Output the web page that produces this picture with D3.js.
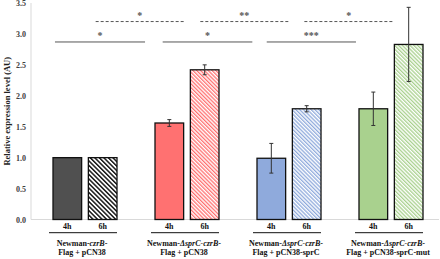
<!DOCTYPE html>
<html><head><meta charset="utf-8">
<script src="https://cdn.jsdelivr.net/npm/d3@7"></script>
<style>body{margin:0;background:#fff}svg{display:block}text{font-family:"Liberation Serif","Times New Roman",serif;font-weight:bold}</style>
</head><body>
<svg id="c" width="440" height="259"></svg>
<script>
const groups = ["g1","g2","g3","g4"];
const groupLine1 = [["Newman-","czrB","-"],["Newman-","ΔsprC-czrB","-"],["Newman-","ΔsprC-czrB","-"],["Newman-","ΔsprC-czrB","-"]];
const groupLine2 = ["Flag + pCN38","Flag + pCN38","Flag + pCN38-sprC","Flag + pCN38-sprC-mut"];
const times = ["4h","6h"];
const values4h = [1.00, 1.56, 0.99, 1.79];
const values6h = [1.00, 2.42, 1.79, 2.83];
const err4h = [0, 0.055, 0.24, 0.27];
const err6h = [0, 0.08, 0.05, 0.60];
const colors = ["#505050","#ff7171","#8faadc","#a9d18e"];
const hatchColors = ["#1a1a1a","#ff7171","#8faadc","#a9d18e"];
const yTicks = [0,0.5,1.0,1.5,2.0,2.5,3.0,3.5];
// significance brackets: [from, to] in category units, label
const sigSolid = [[0.235,1.118,"*"],[1.291,2.170,"*"],[2.311,3.186,"***"]];
const sigDashed = [[0.634,1.50,"*"],[1.66,2.523,"**"],[2.68,3.552,"*"]];
const solidLevel = 2.87, dashedLevel = 3.20;

const svg = d3.select("#c");
const L = 31, R = 439, T = 3, B = 219.5;
const y = d3.scaleLinear().domain([0,3.5]).range([B,T]);
const x0 = d3.scaleBand().domain(groups).range([L,R]);
const xc = d3.scaleLinear().domain([0,4]).range([L,R]);
const x1 = d3.scaleBand().domain(times).range([22,86]).paddingInner(0.19).paddingOuter(0);

const defs = svg.append("defs");
hatchColors.forEach((c,i)=>{
  const s = i===0 ? 3.2 : 2.7;
  const p = defs.append("pattern").attr("id","h"+i).attr("patternUnits","userSpaceOnUse")
    .attr("width",s).attr("height",s).attr("patternTransform","rotate(-45)");
  p.append("rect").attr("width",s).attr("height",s).attr("fill","#fff");
  p.append("rect").attr("x",0).attr("width",i===0?1.5:1.3).attr("height",s).attr("fill",c);
});

// axes lines
svg.append("line").attr("x1",L).attr("x2",L).attr("y1",T).attr("y2",B).attr("stroke","#d9d9d9");
svg.append("line").attr("x1",L).attr("x2",R).attr("y1",B).attr("y2",B).attr("stroke","#d9d9d9");

const yAxis = svg.append("g").attr("transform",`translate(${L},0)`)
  .call(d3.axisLeft(y).tickValues(yTicks).tickFormat(d3.format(".1f")).tickSize(0).tickPadding(5));
yAxis.select(".domain").remove();
yAxis.selectAll("text").attr("font-size",8).attr("fill","#404040");

svg.append("text").attr("transform",`translate(10,${(T+B)/2}) rotate(-90)`)
  .attr("text-anchor","middle").attr("font-size",8.5).attr("fill","#222")
  .text("Relative expression level (AU)");

groups.forEach((g,i)=>{
  const gx = x0(g);
  const data = [{t:"4h",v:values4h[i],e:err4h[i],fill:colors[i]},{t:"6h",v:values6h[i],e:err6h[i],fill:`url(#h${i})`}];
  const gg = svg.append("g").attr("transform",`translate(${gx},0)`);
  gg.selectAll("rect.bar").data(data).join("rect").attr("class","bar")
    .attr("x",d=>x1(d.t)).attr("width",x1.bandwidth())
    .attr("y",d=>y(d.v)).attr("height",d=>y(0)-y(d.v))
    .attr("fill",d=>d.fill).attr("stroke","#111").attr("stroke-width",1.3);
  data.filter(d=>d.e>0).forEach(d=>{
    const cx = x1(d.t)+x1.bandwidth()/2;
    gg.append("line").attr("x1",cx).attr("x2",cx).attr("y1",y(d.v+d.e)).attr("y2",y(d.v-d.e)).attr("stroke","#333").attr("stroke-width",1);
    [d.v+d.e,d.v-d.e].forEach(v=>gg.append("line").attr("x1",cx-2).attr("x2",cx+2).attr("y1",y(v)).attr("y2",y(v)).attr("stroke","#333").attr("stroke-width",1));
  });
  gg.selectAll("text.t").data(times).join("text").attr("class","t")
    .attr("x",d=>x1(d)+x1.bandwidth()/2).attr("y",229).attr("text-anchor","middle")
    .attr("font-size",8).attr("fill","#111").text(d=>d);
  gg.append("line").attr("x1",18).attr("x2",86).attr("y1",232.7).attr("y2",232.7).attr("stroke","#111").attr("stroke-width",1);
  const cx = x0.bandwidth()/2;
  const t1 = gg.append("text").attr("x",cx).attr("y",246).attr("text-anchor","middle").attr("font-size",8).attr("fill","#111");
  t1.append("tspan").text(groupLine1[i][0]);
  t1.append("tspan").attr("font-style","italic").text(groupLine1[i][1]);
  t1.append("tspan").text(groupLine1[i][2]);
  gg.append("text").attr("x",cx).attr("y",254.5).attr("text-anchor","middle").attr("font-size",8).attr("fill","#111").text(groupLine2[i]);
});

function sig(arr, level, dashed){
  arr.forEach(([a,b,lab])=>{
    svg.append("line").attr("x1",xc(a)).attr("x2",xc(b)).attr("y1",y(level)).attr("y2",y(level))
      .attr("stroke","#555").attr("stroke-width",1).attr("stroke-dasharray",dashed?"3,2":null);
    svg.append("text").attr("x",(xc(a)+xc(b))/2).attr("y",y(level)-3).attr("text-anchor","middle")
      .attr("font-size",10).attr("fill","#555").text(lab);
  });
}
sig(sigSolid, solidLevel, false);
sig(sigDashed, dashedLevel, true);
</script>
</body></html>
